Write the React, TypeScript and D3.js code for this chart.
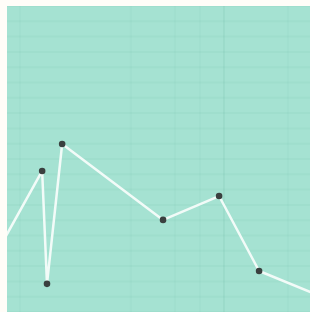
import { useEffect, useRef } from 'react';
import * as d3 from 'd3';

// series (x in days, y in value units); first and last points sit outside the view
const xValues = [-5.6, 11.6, 13.2, 18.2, 51.5, 70, 83.2, 106.6];
const yValues = [15.5, 46.1, 9.2, 54.9, 30.1, 37.9, 13.4, 3.9];
const markerShown = [false, true, true, true, true, true, true, false];

// faint grid positions
const yGridTicks = d3.range(0, 101, 5);
const xGridTicks = [4.3, 40.9, 55.4, 63.7, 92.7];
const xMajorTick = [71.6];

const App = () => {
  const svgRef = useRef<SVGSVGElement>(null);

  useEffect(() => {
    if (!svgRef.current) return;
    const width = 310;
    const height = 312;
    const margin = { top: 6, right: 0, bottom: 0, left: 7 };

    const svg = d3.select(svgRef.current);
    svg.selectAll('*').remove();
    svg.attr('width', width).attr('height', height);

    svg.append('rect')
      .attr('width', width)
      .attr('height', height)
      .attr('fill', '#fffdf8');

    const x = d3.scaleLinear()
      .domain([0, 100])
      .range([margin.left, width - margin.right]);

    const y = d3.scaleLinear()
      .domain([0, 100])
      .range([height - margin.bottom, margin.top]);

    svg.append('clipPath')
      .attr('id', 'plot-clip')
      .append('rect')
      .attr('x', margin.left)
      .attr('y', margin.top)
      .attr('width', width - margin.left - margin.right)
      .attr('height', height - margin.top - margin.bottom);

    const plot = svg.append('g').attr('clip-path', 'url(#plot-clip)');

    plot.append('rect')
      .attr('x', margin.left)
      .attr('y', margin.top)
      .attr('width', width - margin.left - margin.right)
      .attr('height', height - margin.top - margin.bottom)
      .attr('fill', '#a5e2d2');

    plot.selectAll('.hgrid')
      .data(yGridTicks)
      .enter()
      .append('line')
      .attr('x1', margin.left)
      .attr('x2', width)
      .attr('y1', d => y(d))
      .attr('y2', d => y(d))
      .attr('stroke', '#5aa994')
      .attr('stroke-opacity', 0.07)
      .attr('stroke-width', 2);

    plot.selectAll('.vgrid')
      .data(xGridTicks)
      .enter()
      .append('line')
      .attr('x1', d => x(d))
      .attr('x2', d => x(d))
      .attr('y1', margin.top)
      .attr('y2', height)
      .attr('stroke', '#5aa994')
      .attr('stroke-opacity', 0.05)
      .attr('stroke-width', 2);

    plot.selectAll('.vmajor')
      .data(xMajorTick)
      .enter()
      .append('line')
      .attr('x1', d => x(d))
      .attr('x2', d => x(d))
      .attr('y1', margin.top)
      .attr('y2', height)
      .attr('stroke', '#4f9f8a')
      .attr('stroke-opacity', 0.13)
      .attr('stroke-width', 1.5);

    const points = xValues.map((v, i) => ({ x: v, y: yValues[i], shown: markerShown[i] }));

    const line = d3.line<{ x: number; y: number }>()
      .x(d => x(d.x))
      .y(d => y(d.y));

    plot.append('path')
      .datum(points)
      .attr('fill', 'none')
      .attr('stroke', '#f2fbf8')
      .attr('stroke-width', 2.5)
      .attr('stroke-linejoin', 'round')
      .attr('d', line);

    plot.selectAll('circle')
      .data(points.filter(p => p.shown))
      .enter()
      .append('circle')
      .attr('cx', d => x(d.x))
      .attr('cy', d => y(d.y))
      .attr('r', 3.3)
      .attr('fill', '#3a403f');
  }, []);

  return (
    <div style={{ position: 'fixed', left: 0, top: 0, width: 310, height: 312 }}>
      <svg ref={svgRef} style={{ display: 'block' }}></svg>
    </div>
  );
};

export default App;
